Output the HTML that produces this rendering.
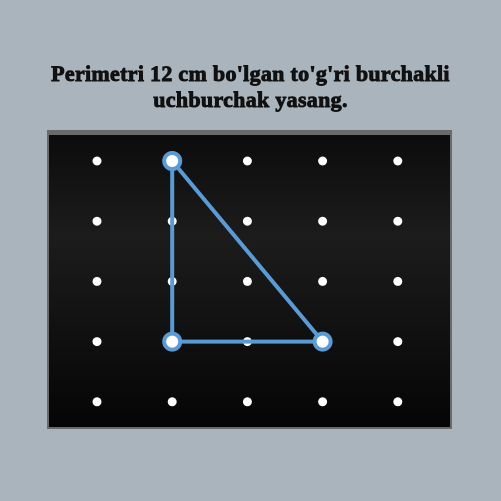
<!DOCTYPE html>
<html><head><meta charset="utf-8"><style>
html,body{margin:0;padding:0;width:501px;height:501px;overflow:hidden;background:#aab4bc;}
#t{position:absolute;left:0;top:61px;width:501px;text-align:center;font-family:"Liberation Serif",serif;font-weight:bold;font-size:22px;line-height:26px;color:#111;letter-spacing:0.3px;-webkit-text-stroke:0.9px #111;}
</style></head><body>
<div id="t">Perimetri 12 cm bo'lgan to'g'ri burchakli<br>uchburchak yasang.</div>
<svg width="501" height="501" style="position:absolute;left:0;top:0">
<defs><linearGradient id="g" x1="0" y1="0" x2="0" y2="1"><stop offset="0" stop-color="#0c0c0c"/><stop offset="0.35" stop-color="#1c1c1c"/><stop offset="1" stop-color="#050505"/></linearGradient></defs>
<rect x="47" y="130" width="405" height="299" fill="#6a6a6a"/>
<rect x="49" y="135" width="401" height="292" fill="url(#g)"/>
<g id="pegs"></g>
<g id="shape"></g>
</svg>
<script>
const cols=[0,1,2,3,4];
const rows=[0,1,2,3,4];
const triCol=[1,1,3];
const triRow=[0,3,3];
const X=c=>97+c*75.2, Y=r=>161+r*60.2;
const ns="http://www.w3.org/2000/svg";
const pegs=document.getElementById('pegs'), shape=document.getElementById('shape');
rows.forEach(r=>cols.forEach(c=>{const e=document.createElementNS(ns,'circle');e.setAttribute('cx',X(c));e.setAttribute('cy',Y(r));e.setAttribute('r',4.5);e.setAttribute('fill','#fff');


pegs.appendChild(e);}));
const p=document.createElementNS(ns,'polygon');
p.setAttribute('points',triCol.map((c,i)=>X(c)+','+Y(triRow[i])).join(' '));
p.setAttribute('fill','none');p.setAttribute('stroke','#5b9bd5');p.setAttribute('stroke-width','4');


shape.appendChild(p);
triCol.forEach((c,i)=>{const e=document.createElementNS(ns,'circle');e.setAttribute('cx',X(c));e.setAttribute('cy',Y(triRow[i]));e.setAttribute('r',8);e.setAttribute('fill','#fff');e.setAttribute('stroke','#5b9bd5');e.setAttribute('stroke-width','4');


shape.appendChild(e);});
</script>
</body></html>
